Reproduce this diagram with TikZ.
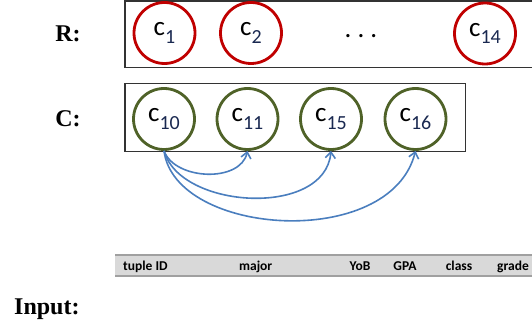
\documentclass[tikz,border=0pt]{standalone}
\usepackage{fontspec}
\setmainfont{Liberation Serif}
\newfontfamily\carlito{Carlito}
\usetikzlibrary{arrows.meta}
\definecolor{rred}{RGB}{192,0,0}
\definecolor{cgreen}{RGB}{79,98,40}
\definecolor{arrblue}{RGB}{74,126,190}
\definecolor{subnavy}{RGB}{25,40,80}
\definecolor{hdrgray}{RGB}{217,217,217}
\definecolor{hdrline}{RGB}{160,160,160}
\newcommand{\clab}[1]{{\carlito\fontsize{27}{30}\selectfont c\raisebox{-7.5pt}{\fontsize{20}{22}\selectfont\color{subnavy}#1}}}
\begin{document}
\begin{tikzpicture}[x=1pt,y=-1pt,
  rnode/.style={circle, draw=rred, line width=2.8pt, minimum size=61pt, inner sep=0pt},
  cnode/.style={circle, draw=cgreen, line width=2.8pt, minimum size=61pt, inner sep=0pt},
  hdr/.style={font=\carlito\bfseries\fontsize{13.5}{15}\selectfont, anchor=base, inner sep=0pt},
  lbl/.style={font=\bfseries\fontsize{24}{28}\selectfont, anchor=base, inner sep=0pt},
  dep/.style={arrblue, line width=1.6pt, -{Straight Barb[length=6pt,width=10pt]}}]
\useasboundingbox (0,0) rectangle (532,323);
\node[lbl] (rlbl) at (68,42){R:};
\node[lbl] (clbl) at (68,127){C:};
\node[lbl, anchor=base west] (input) at (14,314){Input:};
\draw[line width=1.1pt, black!80] (125,1) rectangle (545,67.5);
\draw[line width=1.1pt, black!80] (125,83.5) rectangle (465.5,151.5);
\node[rnode] (r1) at (164.5,33){\clab{1}};
\node[rnode] (r2) at (251,33){\clab{2}};
\node[font=\carlito\fontsize{27}{30}\selectfont, anchor=base] (dots) at (361,37.5){.~.~.};
\node[rnode] (r14) at (485,33.5){\clab{14}};
\node[cnode] (c10) at (164,119){\clab{10}};
\node[cnode] (c11) at (247.5,119){\clab{11}};
\node[cnode] (c15) at (331,119){\clab{15}};
\node[cnode] (c16) at (415.5,119){\clab{16}};
\draw[dep] (c10.south) .. controls +(11,29.5) and +(-7,32) .. (c11.south);
\draw[dep] (c10.south) .. controls +(16,58.5) and +(-6,67) .. (c15.south);
\draw[dep] (c10.south) .. controls +(11,85.5) and +(-25,100) .. (c16.south);
\fill[hdrgray] (115,254) rectangle (545,277);
\draw[hdrline, line width=2pt] (115,255) -- (545,255);
\draw[hdrline, line width=2pt] (115,276) -- (545,276);
\node[hdr, anchor=base west] (tid) at (123,270){tuple ID};
\node[hdr] (major) at (255.7,270){major};
\node[hdr] (yob) at (360,270){YoB};
\node[hdr] (gpa) at (405,270){GPA};
\node[hdr] (cls) at (459,270){class};
\node[hdr] (grade) at (513,270){grade};
\end{tikzpicture}
\end{document}
